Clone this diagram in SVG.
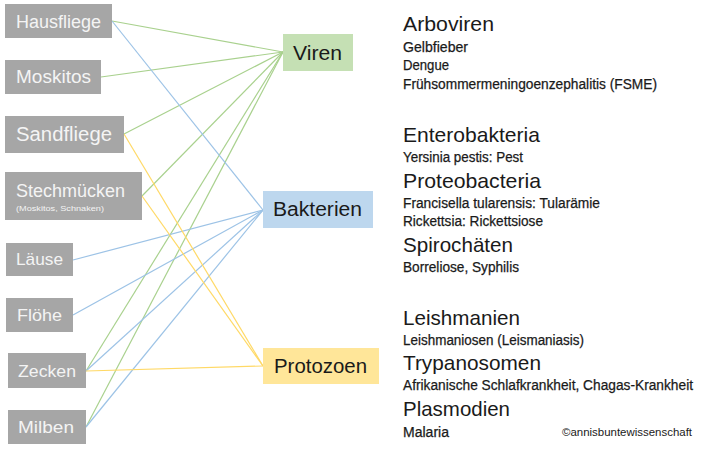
<svg xmlns="http://www.w3.org/2000/svg" width="703" height="454" viewBox="0 0 703 454">
<style>
.vec rect{fill:#a6a6a6}
.vec text{fill:#f4f4f4;font-family:"Liberation Sans",Arial,sans-serif}
.cat text{fill:#1a1a1a;font-family:"Liberation Sans",Arial,sans-serif;font-size:20px}
.g{stroke:#a9d18e;stroke-width:1.2;fill:none}
.b{stroke:#9dc3e6;stroke-width:1.2;fill:none}
.y{stroke:#ffd966;stroke-width:1.2;fill:none}
.info text{fill:#1a1a1a;font-family:"Liberation Sans",Arial,sans-serif}
.h{font-size:21px}
.s{font-size:14px;stroke:#1a1a1a;stroke-width:0.25}
</style>
<rect width="703" height="454" fill="#ffffff"/>
<g id="connectors">
<line class="g" x1="112" y1="21" x2="283" y2="52"/>
<line class="g" x1="101" y1="77" x2="283" y2="52"/>
<line class="g" x1="124" y1="134" x2="283" y2="52"/>
<line class="g" x1="142" y1="196" x2="283" y2="52"/>
<line class="g" x1="86" y1="371" x2="283" y2="52"/>
<line class="g" x1="86" y1="427" x2="283" y2="52"/>
<line class="b" x1="112" y1="21" x2="263" y2="210"/>
<line class="b" x1="73" y1="260" x2="263" y2="210"/>
<line class="b" x1="73" y1="315" x2="263" y2="210"/>
<line class="b" x1="86" y1="371" x2="263" y2="210"/>
<line class="b" x1="86" y1="427" x2="263" y2="210"/>
<line class="y" x1="124" y1="134" x2="263" y2="366"/>
<line class="y" x1="142" y1="196" x2="263" y2="366"/>
<line class="y" x1="86" y1="371" x2="263" y2="366"/>
</g>
<g id="hausfliege" class="vec"><rect x="5" y="4" width="107" height="34"/><text x="16" y="28" font-size="18" textLength="85" lengthAdjust="spacingAndGlyphs">Hausfliege</text></g>
<g id="moskitos" class="vec"><rect x="5" y="60" width="96" height="34"/><text x="16" y="83" font-size="18" textLength="75" lengthAdjust="spacingAndGlyphs">Moskitos</text></g>
<g id="sandfliege" class="vec"><rect x="5" y="116" width="119" height="37"/><text x="16" y="141" font-size="20" textLength="96" lengthAdjust="spacingAndGlyphs">Sandfliege</text></g>
<g id="stechmuecken" class="vec"><rect x="5" y="172" width="137" height="48"/><text x="16" y="197" font-size="18" textLength="109" lengthAdjust="spacingAndGlyphs">Stechmücken</text><text x="16" y="211" font-size="7.5" textLength="88" lengthAdjust="spacingAndGlyphs">(Moskitos, Schnaken)</text></g>
<g id="laeuse" class="vec"><rect x="6" y="243" width="67" height="33"/><text x="16" y="265" font-size="17" textLength="47" lengthAdjust="spacingAndGlyphs">Läuse</text></g>
<g id="floehe" class="vec"><rect x="6" y="298" width="67" height="34"/><text x="17" y="321" font-size="17" textLength="45" lengthAdjust="spacingAndGlyphs">Flöhe</text></g>
<g id="zecken" class="vec"><rect x="8" y="353" width="78" height="35"/><text x="18" y="377" font-size="17" textLength="58" lengthAdjust="spacingAndGlyphs">Zecken</text></g>
<g id="milben" class="vec"><rect x="8" y="410" width="78" height="34"/><text x="18" y="433" font-size="17" textLength="56" lengthAdjust="spacingAndGlyphs">Milben</text></g>
<g id="viren" class="cat"><rect x="283" y="34" width="70" height="37" fill="#c5e0b4"/><text x="293" y="60" textLength="49" lengthAdjust="spacingAndGlyphs">Viren</text></g>
<g id="bakterien" class="cat"><rect x="263" y="191" width="110" height="37" fill="#bdd7ee"/><text x="273" y="216" textLength="89" lengthAdjust="spacingAndGlyphs">Bakterien</text></g>
<g id="protozoen" class="cat"><rect x="263" y="348" width="116" height="36" fill="#ffe699"/><text x="274" y="373" textLength="93" lengthAdjust="spacingAndGlyphs">Protozoen</text></g>
<g id="info" class="info">
<text class="h" x="403" y="31" textLength="91" lengthAdjust="spacingAndGlyphs">Arboviren</text>
<text class="s" x="403" y="52" textLength="65" lengthAdjust="spacingAndGlyphs">Gelbfieber</text>
<text class="s" x="403" y="70" textLength="46" lengthAdjust="spacingAndGlyphs">Dengue</text>
<text class="s" x="403" y="89" textLength="254" lengthAdjust="spacingAndGlyphs">Frühsommermeningoenzephalitis (FSME)</text>
<text class="h" x="403" y="142" textLength="137" lengthAdjust="spacingAndGlyphs">Enterobakteria</text>
<text class="s" x="403" y="162" textLength="120" lengthAdjust="spacingAndGlyphs">Yersinia pestis: Pest</text>
<text class="h" x="403" y="188" textLength="138" lengthAdjust="spacingAndGlyphs">Proteobacteria</text>
<text class="s" x="403" y="208" textLength="197" lengthAdjust="spacingAndGlyphs">Francisella tularensis: Tularämie</text>
<text class="s" x="403" y="226" textLength="140" lengthAdjust="spacingAndGlyphs">Rickettsia: Rickettsiose</text>
<text class="h" x="403" y="252" textLength="110" lengthAdjust="spacingAndGlyphs">Spirochäten</text>
<text class="s" x="403" y="272" textLength="116" lengthAdjust="spacingAndGlyphs">Borreliose, Syphilis</text>
<text class="h" x="403" y="325" textLength="117" lengthAdjust="spacingAndGlyphs">Leishmanien</text>
<text class="s" x="403" y="345" textLength="181" lengthAdjust="spacingAndGlyphs">Leishmaniosen (Leismaniasis)</text>
<text class="h" x="403" y="370" textLength="138" lengthAdjust="spacingAndGlyphs">Trypanosomen</text>
<text class="s" x="403" y="390" textLength="290" lengthAdjust="spacingAndGlyphs">Afrikanische Schlafkrankheit, Chagas-Krankheit</text>
<text class="h" x="403" y="416" textLength="107" lengthAdjust="spacingAndGlyphs">Plasmodien</text>
<text class="s" x="403" y="437" textLength="46" lengthAdjust="spacingAndGlyphs">Malaria</text>
<text x="562" y="436" font-size="10" textLength="130" lengthAdjust="spacingAndGlyphs">©annisbuntewissenschaft</text>
</g>
</svg>
